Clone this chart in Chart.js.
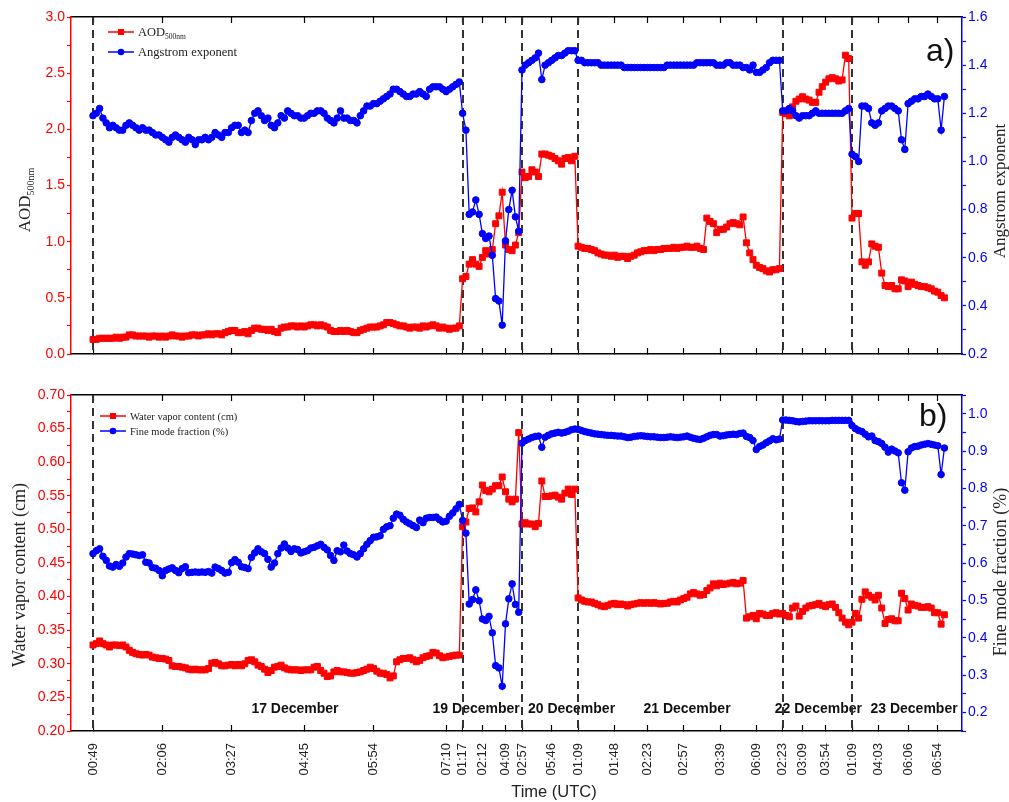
<!DOCTYPE html>
<html>
<head>
<meta charset="utf-8">
<script src="https://cdn.jsdelivr.net/npm/chart.js@4.4.1/dist/chart.umd.min.js"></script>
<style>
  html, body { margin: 0; padding: 0; background: #fff; }
  #wrap { position: relative; width: 1009px; height: 802px; overflow: hidden; background: #fff; }
  #top { position: absolute; left: 0; top: 0; }
  #bot { position: absolute; left: 0; top: 380px; }
</style>
</head>
<body>
<div id="wrap">
  <canvas id="top" width="1009" height="380"></canvas>
  <canvas id="bot" width="1009" height="422"></canvas>
</div>
<script>
// ---------- observations, one array per measurement day (row order) ----------
// AOD at 500 nm
const aod17 = [0.13,0.13,0.14,0.14,0.14, 0.14,0.14,0.15,0.14,0.15, 0.15,0.17,0.17,0.16,0.16, 0.16,0.16,0.15,0.16,0.16,
  0.15,0.16,0.15,0.16,0.17, 0.16,0.16,0.15,0.16,0.16, 0.17,0.17,0.16,0.17,0.17, 0.18,0.17,0.18,0.18,0.17,
  0.19,0.20,0.21,0.21,0.19, 0.19,0.20,0.18,0.21,0.23, 0.23,0.22,0.22,0.21,0.22, 0.20,0.19,0.23,0.24,0.24,
  0.25,0.25,0.24,0.25,0.24, 0.25,0.26,0.26,0.25,0.26, 0.25,0.24,0.21,0.20,0.20, 0.21,0.20,0.21,0.20,0.19,
  0.19,0.21,0.22,0.23,0.24, 0.24,0.24,0.25,0.26,0.28, 0.28,0.27,0.26,0.25,0.25, 0.24,0.23,0.24,0.24,0.23,
  0.25,0.24,0.25,0.26,0.25, 0.23,0.24,0.23,0.22,0.23, 0.23,0.25];
const aod19 = [0.67,0.69,0.80,0.84,0.80,0.78,0.86,0.92,0.89,0.93,1.16,1.23,1.44,0.97,0.93,0.92,0.97,1.08];
const aod20 = [1.62,1.57,1.58,1.64,1.62,1.58,1.78,1.78,1.77,1.76,1.74,1.72,1.69,1.74,1.75,1.72,1.76];
const aod21 = [0.96,0.95,0.94,0.94,0.93, 0.92,0.90,0.89,0.88,0.88, 0.87,0.88,0.86,0.87,0.87, 0.85,0.87,0.88,0.90,0.91,
  0.92,0.92,0.93,0.92,0.93, 0.93,0.94,0.94,0.94,0.95, 0.94,0.95,0.95,0.96,0.95, 0.95,0.96,0.94,0.93,1.21,
  1.18,1.16,1.08,1.11,1.11, 1.13,1.16,1.17,1.16,1.15, 1.22,0.99,0.90,0.84,0.79, 0.77,0.76,0.74,0.73,0.75,
  0.75,0.76];
const aod22 = [2.15,2.14,2.12,2.20,2.25,2.27,2.29,2.27,2.26,2.24,2.24,2.33,2.38,2.42,2.45,2.46,2.45,2.43,2.44,2.66,2.63];
const aod23 = [1.21,1.25,1.25,0.82,0.79,0.82,0.98,0.96,0.95,0.72,0.61,0.60,0.61,0.58,0.58,0.66,0.65,0.60,0.64,0.62,
  0.61,0.60,0.60,0.59,0.58,0.56,0.55,0.52,0.50];

// Angstrom exponent
const ae17 = [1.19,1.20,1.22,1.18,1.16, 1.14,1.15,1.14,1.13,1.13, 1.15,1.16,1.15,1.14,1.13, 1.14,1.13,1.13,1.12,1.11,
  1.11,1.10,1.09,1.08,1.10, 1.11,1.10,1.09,1.08,1.10, 1.09,1.07,1.09,1.09,1.10, 1.09,1.10,1.12,1.11,1.10,
  1.12,1.12,1.14,1.15,1.15, 1.12,1.13,1.12,1.17,1.20, 1.21,1.19,1.17,1.18,1.15, 1.14,1.16,1.19,1.18,1.21,
  1.20,1.19,1.19,1.18,1.18, 1.19,1.20,1.20,1.21,1.21, 1.20,1.18,1.17,1.16,1.18, 1.21,1.18,1.18,1.17,1.17,
  1.16,1.19,1.21,1.23,1.23, 1.24,1.24,1.25,1.26,1.27, 1.28,1.30,1.30,1.29,1.28, 1.27,1.27,1.28,1.28,1.29,
  1.28,1.27,1.30,1.31,1.31, 1.31,1.30,1.29,1.30,1.31, 1.32,1.33];
const ae19 = [1.20,1.13,0.78,0.79,0.84,0.78,0.70,0.68,0.69,0.61,0.43,0.42,0.32,0.67,0.80,0.88,0.77,0.71];
const ae20 = [1.38,1.40,1.41,1.42,1.43,1.45,1.34,1.40,1.41,1.42,1.43,1.44,1.44,1.45,1.46,1.46,1.46];
const ae21 = [1.42,1.42,1.41,1.41,1.41, 1.41,1.41,1.40,1.40,1.40, 1.40,1.40,1.40,1.40,1.39, 1.39,1.39,1.39,1.39,1.39,
  1.39,1.39,1.39,1.39,1.39, 1.39,1.39,1.40,1.40,1.40, 1.40,1.40,1.40,1.40,1.40, 1.40,1.41,1.41,1.41,1.41,
  1.41,1.41,1.40,1.40,1.40, 1.41,1.41,1.40,1.40,1.40, 1.39,1.39,1.38,1.40,1.37, 1.37,1.38,1.39,1.41,1.42,
  1.42,1.42];
const ae22 = [1.21,1.21,1.22,1.21,1.19,1.18,1.19,1.19,1.19,1.20,1.21,1.20,1.20,1.20,1.20,1.20,1.20,1.20,1.20,1.21,1.22];
const ae23 = [1.03,1.02,1.00,1.23,1.23,1.22,1.16,1.15,1.16,1.21,1.22,1.23,1.23,1.22,1.21,1.09,1.05,1.24,1.25,1.26,
  1.26,1.27,1.27,1.28,1.27,1.26,1.26,1.13,1.27];

// Water vapor content (cm)
const wv17 = [0.328,0.330,0.334,0.330,0.328, 0.325,0.328,0.328,0.327,0.328, 0.325,0.320,0.317,0.315,0.314,
  0.313,0.314,0.313,0.310,0.309, 0.308,0.308,0.307,0.305,0.297, 0.296,0.296,0.295,0.294,0.292,
  0.291,0.292,0.291,0.291,0.291, 0.293,0.301,0.302,0.300,0.297, 0.297,0.298,0.299,0.297,0.299,
  0.297,0.300,0.305,0.306,0.303, 0.298,0.296,0.292,0.287,0.290, 0.295,0.296,0.298,0.294,0.292,
  0.291,0.291,0.291,0.290,0.291, 0.291,0.291,0.295,0.296,0.290, 0.286,0.281,0.282,0.288,0.290,
  0.288,0.288,0.287,0.286,0.286, 0.287,0.288,0.290,0.292,0.295, 0.293,0.289,0.286,0.286,0.284,
  0.279,0.282,0.303,0.306,0.308, 0.308,0.309,0.306,0.303,0.305, 0.309,0.311,0.312,0.317,0.316,
  0.312,0.309,0.310,0.311,0.312, 0.313,0.313];
const wv19 = [0.504,0.511,0.531,0.532,0.526,0.541,0.566,0.558,0.556,0.560,0.565,0.565,0.578,0.556,0.545,0.541,0.545,0.644];
const wv20 = [0.508,0.510,0.508,0.508,0.504,0.509,0.572,0.549,0.549,0.550,0.551,0.548,0.545,0.554,0.560,0.552,0.560];
const wv21 = [0.398,0.395,0.393,0.392,0.392, 0.390,0.388,0.386,0.385,0.387, 0.389,0.390,0.388,0.389,0.388,
  0.386,0.388,0.389,0.390,0.391, 0.390,0.391,0.390,0.391,0.390, 0.389,0.390,0.390,0.392,0.393,
  0.392,0.395,0.397,0.399,0.404, 0.406,0.404,0.402,0.403,0.409, 0.413,0.419,0.416,0.420,0.418,
  0.419,0.420,0.421,0.419,0.420, 0.424,0.368,0.370,0.372,0.367, 0.375,0.374,0.372,0.372,0.375,
  0.376,0.374];
const wv22 = [0.375,0.372,0.370,0.383,0.386,0.371,0.378,0.383,0.386,0.387,0.388,0.390,0.387,0.385,0.388,0.389,0.384,0.376,0.368,0.362,0.358];
const wv23 = [0.362,0.375,0.368,0.396,0.407,0.402,0.399,0.395,0.402,0.383,0.360,0.366,0.367,0.364,0.364,0.405,0.397,0.380,0.389,0.387,
  0.386,0.384,0.384,0.385,0.383,0.376,0.376,0.359,0.373];

// Fine mode fraction
const fmf17 = [0.625,0.633,0.638,0.618,0.607, 0.592,0.589,0.596,0.591,0.600, 0.616,0.625,0.624,0.622,0.620,
  0.622,0.602,0.600,0.588,0.586, 0.580,0.566,0.580,0.584,0.587, 0.580,0.574,0.585,0.590,0.574,
  0.575,0.576,0.575,0.576,0.575, 0.577,0.573,0.589,0.585,0.580, 0.573,0.575,0.601,0.609,0.602,
  0.590,0.588,0.585,0.615,0.627, 0.638,0.630,0.625,0.610,0.589, 0.600,0.625,0.640,0.651,0.640,
  0.631,0.638,0.636,0.627,0.630, 0.633,0.640,0.642,0.646,0.650, 0.642,0.635,0.620,0.607,0.633,
  0.630,0.648,0.632,0.625,0.622, 0.616,0.625,0.638,0.650,0.660, 0.669,0.670,0.673,0.690,0.697,
  0.700,0.720,0.731,0.728,0.717, 0.710,0.705,0.700,0.695,0.715, 0.708,0.720,0.722,0.722,0.723,
  0.716,0.710,0.712,0.725,0.734, 0.745,0.757];
const fmf19 = [0.714,0.680,0.490,0.502,0.528,0.499,0.450,0.446,0.457,0.413,0.325,0.319,0.270,0.437,0.504,0.544,0.489,0.468];
const fmf20 = [0.921,0.928,0.932,0.936,0.939,0.940,0.910,0.937,0.942,0.946,0.948,0.950,0.948,0.950,0.953,0.957,0.959];
const fmf21 = [0.958,0.955,0.952,0.950,0.948, 0.946,0.945,0.944,0.943,0.942, 0.942,0.941,0.940,0.940,0.938,
  0.936,0.937,0.939,0.940,0.941, 0.940,0.939,0.938,0.938,0.937, 0.936,0.936,0.937,0.938,0.937,
  0.936,0.937,0.938,0.940,0.937, 0.934,0.932,0.931,0.934,0.938, 0.942,0.944,0.944,0.940,0.941,
  0.943,0.944,0.945,0.944,0.947, 0.948,0.939,0.936,0.928,0.904, 0.912,0.916,0.922,0.927,0.933,
  0.930,0.932];
const fmf22 = [0.983,0.983,0.982,0.981,0.979,0.978,0.979,0.980,0.981,0.981,0.981,0.981,0.981,0.981,0.981,0.982,0.982,0.982,0.982,0.982,0.982];
const fmf23 = [0.968,0.960,0.955,0.952,0.945,0.938,0.940,0.928,0.925,0.920,0.910,0.897,0.905,0.900,0.895,0.815,0.795,0.898,0.908,0.912,
  0.913,0.916,0.918,0.920,0.918,0.916,0.914,0.837,0.908];

// ---------- time axis (row index -> clock label) ----------
const tickRows   = [0, 21, 42, 64, 85, 107, 112, 118, 125, 130, 139, 147, 158, 168, 179, 190, 201, 209, 215, 222, 230, 238, 247, 256];
const tickLabels = ['00:49','02:06','03:27','04:45','05:54','07:10','01:17','02:12','04:09','02:57','05:46','01:09',
                    '01:48','02:23','02:57','03:39','06:09','02:23','03:09','03:54','01:09','04:03','06:06','06:54'];
const dayStartRows = [0, 112, 130, 147, 209, 230];
const dayNames     = ['17 December', '19 December', '20 December', '21 December', '22 December', '23 December'];
const dayLabelRows = [61.2, 116.1, 145, 180, 219.8, 248.8];

// ---------- styling ----------
const RED = '#ff0000', BLUE = '#0000ff';
const SANS = '"Liberation Sans", Arial, sans-serif';
const SERIF = '"Liberation Serif", "Times New Roman", serif';
const X_MIN = -6.667, X_MAX = 263.33;

const toPoints = (...days) => days.flat().map((v, i) => ({ x: i, y: v }));
const tickRange = (lo, hi, step) => {
  const n = Math.round((hi - lo) / step);
  return Array.from({ length: n + 1 }, (_, i) => ({ value: +(lo + i * step).toFixed(4) }));
};

function xAxes(showLabels, bottomHeight) {
  const common = {
    type: 'linear', min: X_MIN, max: X_MAX,
    grid: { drawOnChartArea: false, drawTicks: true, tickLength: -6, color: '#000', tickWidth: 1.2 },
    border: { display: true, color: '#000', width: 1.5 },
    afterBuildTicks: s => { s.ticks = tickRows.map(v => ({ value: v })); }
  };
  return {
    x: Object.assign({}, common, {
      position: 'bottom',
      ticks: {
        autoSkip: false, minRotation: 90, maxRotation: 90, padding: 18,
        color: '#222', font: { family: SANS, size: 13 },
        callback: (v, i) => showLabels ? tickLabels[i] : ''
      },
      afterFit: s => { s.height = bottomHeight; }
    }),
    xTop: Object.assign({}, common, {
      position: 'top',
      ticks: { autoSkip: false, callback: () => '' },
      afterFit: s => { s.height = 0; }
    })
  };
}

function yAxis(side, color, min, max, step, labelEvery, decimals, width) {
  return {
    type: 'linear', position: side, min, max,
    grid: { drawOnChartArea: false, drawTicks: true, tickLength: 4, color, tickWidth: 1.2 },
    border: { display: true, color, width: 1.5 },
    afterBuildTicks: s => { s.ticks = tickRange(min, max, step); },
    ticks: {
      autoSkip: false, padding: 2, color, font: { family: SANS, size: 14 },
      callback: v => (Math.abs(v / labelEvery - Math.round(v / labelEvery)) < 1e-6 ? v.toFixed(decimals) : '')
    },
    afterFit: s => { s.width = width; }
  };
}

function drawRotated(ctx, text, x, y, font, color, sub) {
  ctx.save();
  ctx.translate(x, y);
  ctx.rotate(-Math.PI / 2);
  ctx.fillStyle = color;
  ctx.textBaseline = 'middle';
  ctx.textAlign = 'left';
  ctx.font = font;
  const w1 = ctx.measureText(text).width;
  let w2 = 0;
  if (sub) { ctx.font = sub.font; w2 = ctx.measureText(sub.text).width; }
  const start = -(w1 + w2) / 2;
  ctx.font = font;
  ctx.fillText(text, start, 0);
  if (sub) { ctx.font = sub.font; ctx.fillText(sub.text, start + w1, sub.dy); }
  ctx.restore();
}

function drawLegend(ctx, items, x0, y0, dy, fontPx) {
  items.forEach((it, i) => {
    const y = y0 + i * dy;
    ctx.save();
    ctx.strokeStyle = it.color; ctx.lineWidth = 1.5; ctx.setLineDash([]);
    ctx.beginPath(); ctx.moveTo(x0, y); ctx.lineTo(x0 + 26, y); ctx.stroke();
    ctx.fillStyle = it.color;
    if (it.shape === 'rect') { ctx.fillRect(x0 + 13 - 3, y - 3, 6, 6); }
    else { ctx.beginPath(); ctx.arc(x0 + 13, y, 3.3, 0, Math.PI * 2); ctx.fill(); }
    ctx.fillStyle = '#222'; ctx.textAlign = 'left'; ctx.textBaseline = 'middle';
    ctx.font = fontPx + 'px ' + SERIF;
    ctx.fillText(it.text, x0 + 30, y + 1);
    if (it.sub) {
      const w = ctx.measureText(it.text).width;
      ctx.font = (fontPx * 0.6) + 'px ' + SERIF;
      ctx.fillText(it.sub, x0 + 30 + w, y + 5);
    }
    ctx.restore();
  });
}

function overlay(opts) {
  return {
    id: 'panelOverlay',
    beforeDatasetsDraw(chart) {
      const { ctx, chartArea: a, scales } = chart;
      ctx.save();
      if (opts.days) {
        ctx.font = 'bold 14px ' + SANS; ctx.fillStyle = '#111';
        ctx.textAlign = 'center'; ctx.textBaseline = 'alphabetic';
        const yb = scales.y.getPixelForValue(opts.dayLabelValue);
        dayNames.forEach((t, i) => ctx.fillText(t, scales.x.getPixelForValue(dayLabelRows[i]), yb));
      }
      ctx.strokeStyle = '#333'; ctx.lineWidth = 2; ctx.setLineDash([8, 5]);
      dayStartRows.forEach(r => {
        const px = Math.round(scales.x.getPixelForValue(r));
        ctx.beginPath(); ctx.moveTo(px, a.top); ctx.lineTo(px, a.bottom); ctx.stroke();
      });
      ctx.restore();
    },
    afterDraw(chart) {
      const ctx = chart.ctx;
      drawLegend(ctx, opts.legend, opts.legendX, opts.legendY, opts.legendDy, opts.legendFont);
      opts.titles.forEach(t => drawRotated(ctx, t.text, t.x, t.y, t.font, '#222', t.sub));
      ctx.save();
      ctx.fillStyle = '#111'; ctx.font = '32px ' + SANS; ctx.textAlign = 'left'; ctx.textBaseline = 'alphabetic';
      ctx.fillText(opts.letter.text, opts.letter.x, opts.letter.y);
      if (opts.xTitle) {
        ctx.font = '16.5px ' + SANS; ctx.fillStyle = '#222'; ctx.textAlign = 'center';
        ctx.fillText(opts.xTitle.text, opts.xTitle.x, opts.xTitle.y);
      }
      ctx.restore();
    }
  };
}

function lineSet(label, points, axis, color, shape, order) {
  return {
    label, data: points, yAxisID: axis, order,
    borderColor: color, backgroundColor: color, borderWidth: 1.3,
    pointStyle: shape, pointRadius: shape === 'rect' ? 4.2 : 3.3,
    pointBorderWidth: 1, pointBorderColor: color, pointBackgroundColor: color,
    tension: 0, fill: false
  };
}

const baseOptions = {
  responsive: false, animation: false, devicePixelRatio: 1, events: [],
  plugins: { legend: { display: false }, tooltip: { enabled: false } }
};

// ---------- panel a) ----------
new Chart(document.getElementById('top'), {
  type: 'line',
  data: {
    datasets: [
      lineSet('AOD500nm', toPoints(aod17, aod19, aod20, aod21, aod22, aod23), 'y', RED, 'rect', 2),
      lineSet('Angstrom exponent', toPoints(ae17, ae19, ae20, ae21, ae22, ae23), 'y2', BLUE, 'circle', 1)
    ]
  },
  options: Object.assign({}, baseOptions, {
    layout: { padding: { top: 17, left: 0, right: 0, bottom: 0 } },
    scales: Object.assign(xAxes(false, 26), {
      y: yAxis('left', RED, 0, 3, 0.25, 0.5, 1, 71),
      y2: yAxis('right', BLUE, 0.2, 1.6, 0.1, 0.2, 1, 47)
    })
  }),
  plugins: [overlay({
    days: false,
    legend: [
      { text: 'AOD', sub: '500nm', color: RED, shape: 'rect' },
      { text: 'Angstrom exponent', color: BLUE, shape: 'circle' }
    ],
    legendX: 108, legendY: 32, legendDy: 20, legendFont: 12.5,
    titles: [
      { text: 'AOD', x: 26, y: 200, font: '17px ' + SERIF, sub: { text: '500nm', font: '10px ' + SERIF, dy: 5 } },
      { text: 'Angstrom exponent', x: 1001, y: 191, font: '17px ' + SERIF }
    ],
    letter: { text: 'a)', x: 926, y: 61 }
  })]
});

// ---------- panel b) ----------
new Chart(document.getElementById('bot'), {
  type: 'line',
  data: {
    datasets: [
      lineSet('Water vapor content (cm)', toPoints(wv17, wv19, wv20, wv21, wv22, wv23), 'y', RED, 'rect', 2),
      lineSet('Fine mode fraction (%)', toPoints(fmf17, fmf19, fmf20, fmf21, fmf22, fmf23), 'y2', BLUE, 'circle', 1)
    ]
  },
  options: Object.assign({}, baseOptions, {
    layout: { padding: { top: 15, left: 0, right: 0, bottom: 0 } },
    scales: Object.assign(xAxes(true, 71), {
      y: yAxis('left', RED, 0.2, 0.7, 0.025, 0.05, 2, 71),
      y2: yAxis('right', BLUE, 0.15, 1.05, 0.05, 0.1, 1, 47)
    })
  }),
  plugins: [overlay({
    days: true, dayLabelValue: 0.227,
    legend: [
      { text: 'Water vapor content (cm)', color: RED, shape: 'rect' },
      { text: 'Fine mode fraction (%)', color: BLUE, shape: 'circle' }
    ],
    legendX: 100, legendY: 36, legendDy: 15, legendFont: 10.5,
    titles: [
      { text: 'Water vapor content (cm)', x: 20, y: 195, font: '18px ' + SERIF },
      { text: 'Fine mode fraction (%)', x: 1001, y: 192, font: '18px ' + SERIF }
    ],
    letter: { text: 'b)', x: 919, y: 46 },
    xTitle: { text: 'Time (UTC)', x: 554, y: 417 }
  })]
});
</script>
</body>
</html>
